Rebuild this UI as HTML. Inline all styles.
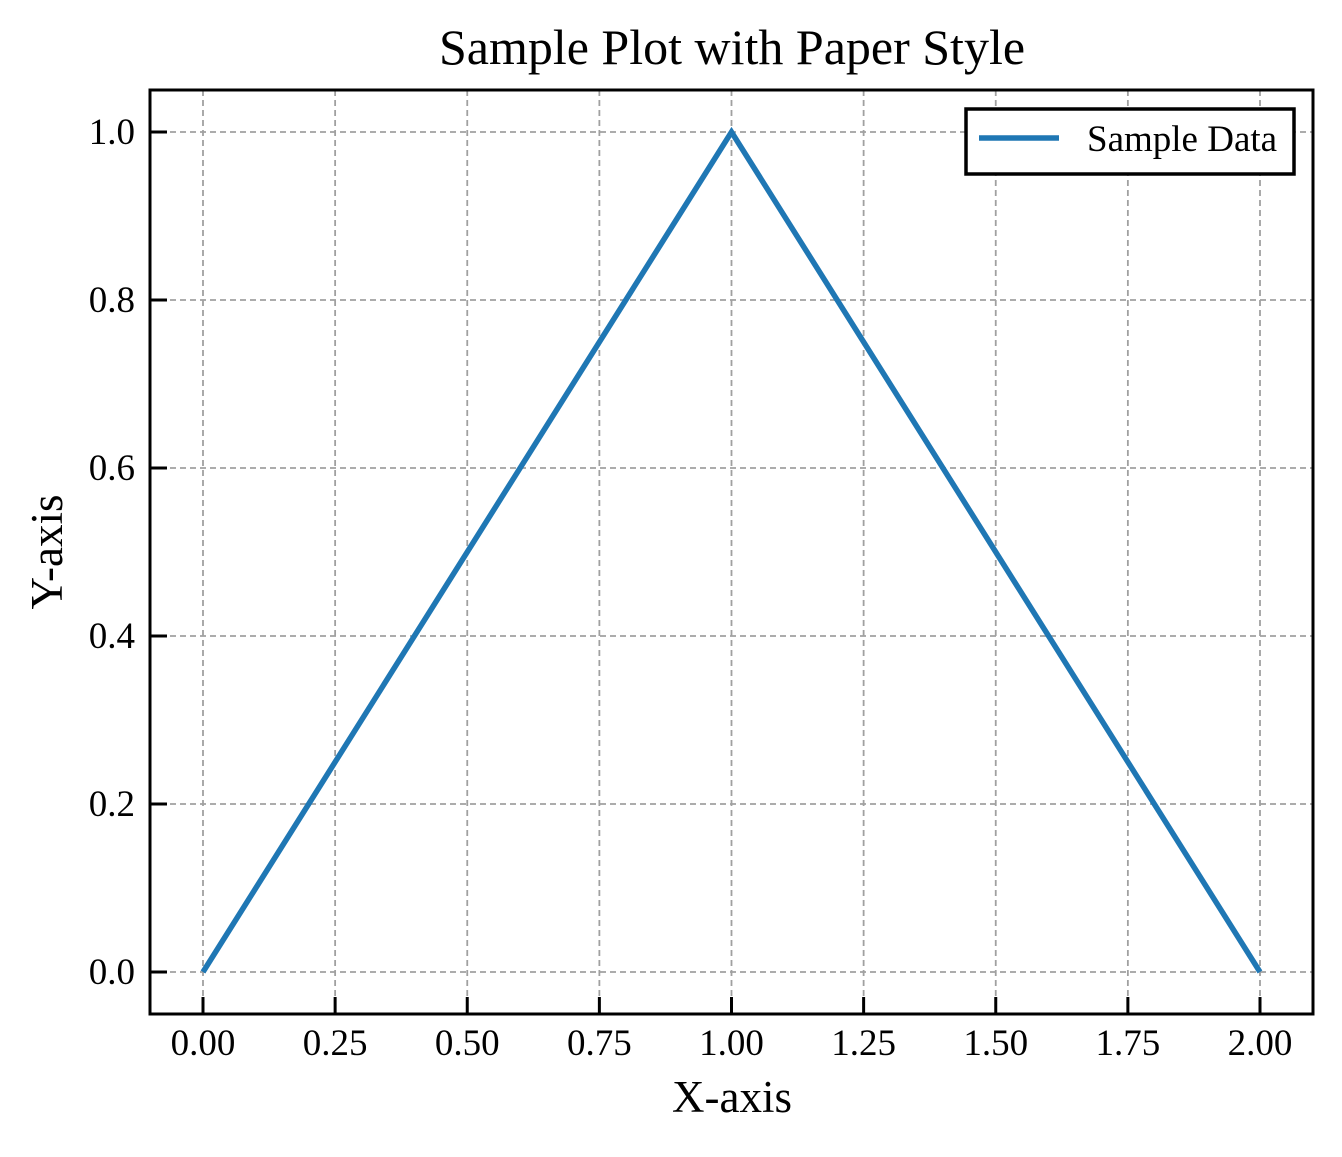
<!DOCTYPE html>
<html><head><meta charset="utf-8"><style>
body{margin:0;background:#fff}
svg text{font-family:"Liberation Serif",serif;fill:#000}
</style></head><body>
<svg id="chart" width="1342" height="1152">
<text x="732" y="64" font-size="50" text-anchor="middle">Sample Plot with Paper Style</text>
<g id="grid"></g>
<g id="ticks"></g>
<path id="line" fill="none" stroke="#1f77b4" stroke-width="5.5"/>
<rect x="150" y="90" width="1163" height="924" fill="none" stroke="#000" stroke-width="3"/>
<text x="732" y="1112" font-size="45" text-anchor="middle">X-axis</text>
<text transform="translate(62,552) rotate(-90)" font-size="45" text-anchor="middle">Y-axis</text>
<g>
<rect x="966" y="109" width="328" height="65" fill="#fff" stroke="#000" stroke-width="3.5"/>
<line x1="979" y1="138" x2="1059" y2="138" stroke="#1f77b4" stroke-width="5.5"/>
<text x="1087" y="151" font-size="37">Sample Data</text>
</g>
</svg>
<script>
const xValues=[0,1,2];
const yValues=[0,1,0];
const xTicks=[0,0.25,0.5,0.75,1,1.25,1.5,1.75,2];
const xTickLabels=["0.00","0.25","0.50","0.75","1.00","1.25","1.50","1.75","2.00"];
const yTicks=[0,0.2,0.4,0.6,0.8,1.0];
const yTickLabels=["0.0","0.2","0.4","0.6","0.8","1.0"];
const NS="http://www.w3.org/2000/svg";
const sx=v=>203+v*(1260-203)/2;
const sy=v=>972-v*(972-132);
const grid=document.getElementById('grid'),ticks=document.getElementById('ticks');
function mk(tag,attrs,parent){const e=document.createElementNS(NS,tag);for(const k in attrs)e.setAttribute(k,attrs[k]);parent.appendChild(e);return e;}
xTicks.forEach((v,i)=>{
 const g=mk('line',{x1:sx(v),x2:sx(v),y1:90,y2:1014,stroke:'#a0a0a0','stroke-width':1.8,'stroke-dasharray':'6,4'},grid);
 
 
 const t=mk('line',{x1:sx(v),x2:sx(v),y1:1014,y2:997,stroke:'#000','stroke-width':3},ticks);
 
 
 const l=mk('text',{x:sx(v),y:1055,'font-size':37,'text-anchor':'middle'},ticks);
 l.textContent=xTickLabels[i];
 
 
});
yTicks.forEach((v,i)=>{
 const g=mk('line',{x1:150,x2:1313,y1:sy(v),y2:sy(v),stroke:'#a0a0a0','stroke-width':1.8,'stroke-dasharray':'6,4'},grid);
 
 
 const t=mk('line',{x1:150,x2:167,y1:sy(v),y2:sy(v),stroke:'#000','stroke-width':3},ticks);
 
 
 const l=mk('text',{x:135,y:sy(v)+12,'font-size':37,'text-anchor':'end'},ticks);
 l.textContent=yTickLabels[i];
 
 
});
document.getElementById('line').setAttribute('d',xValues.map((x,i)=>(i?'L':'M')+sx(x)+','+sy(yValues[i])).join(' '));
</script>
</body></html>
